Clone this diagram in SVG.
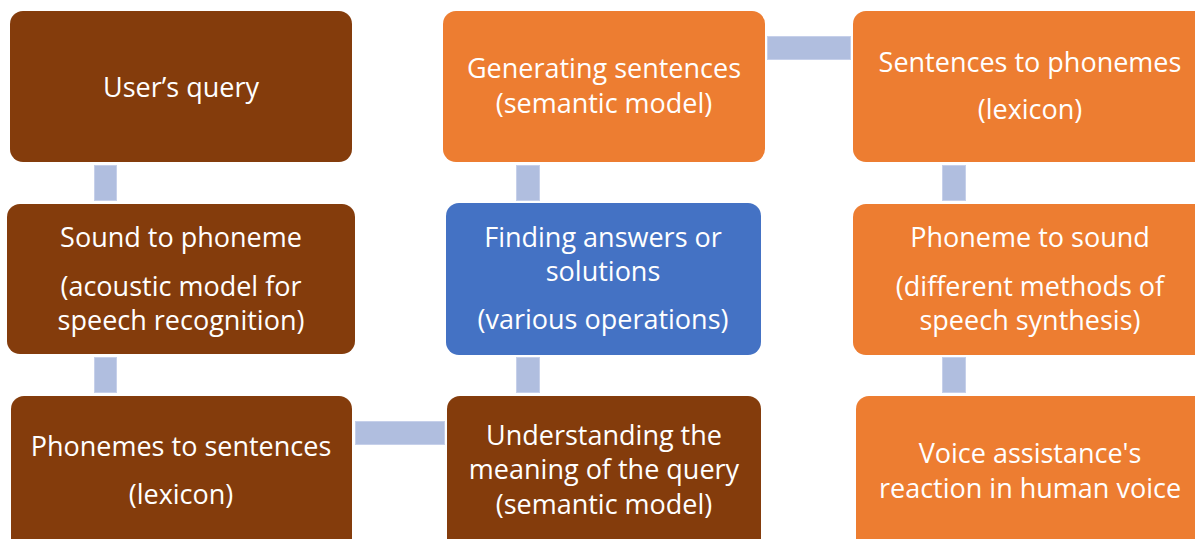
<svg xmlns="http://www.w3.org/2000/svg" width="1195" height="539" viewBox="0 0 1195 539">
<style>
.brown{fill:#843C0C}
.orange{fill:#ED7D31}
.blue{fill:#4472C4}
.conn{fill:#B0BEDF;stroke:#C6D0EA;stroke-width:1}
text{font-family:"Open Sans","Noto Sans",sans-serif;font-size:27px;fill:#FFFFFF;text-anchor:middle}
</style>
<rect width="1195" height="539" fill="#FFFFFF"/>
<g id="connectors">
<rect class="conn" x="94.5" y="165.5" width="22" height="35"/>
<rect class="conn" x="94.5" y="357.5" width="22" height="35"/>
<rect class="conn" x="355.5" y="421.5" width="89" height="23"/>
<rect class="conn" x="516.5" y="357.5" width="23" height="35"/>
<rect class="conn" x="516.5" y="165.5" width="23" height="35"/>
<rect class="conn" x="767.5" y="36.5" width="83" height="23"/>
<rect class="conn" x="942.5" y="165.5" width="23" height="35"/>
<rect class="conn" x="942.5" y="357.5" width="23" height="35"/>
</g>
<g id="n1"><rect class="brown" x="10" y="11" width="342" height="151" rx="13"/>
<text x="181" y="97">User’s query</text></g>
<g id="n2"><rect class="brown" x="7" y="204" width="348" height="150" rx="13"/>
<text x="181" y="247">Sound to phoneme</text>
<text x="181" y="296">(acoustic model for</text>
<text x="181" y="330">speech recognition)</text></g>
<g id="n3"><rect class="brown" x="11" y="396" width="341" height="160" rx="13"/>
<text x="181" y="456">Phonemes to sentences</text>
<text x="181" y="504">(lexicon)</text></g>
<g id="n4"><rect class="brown" x="447" y="396" width="314" height="160" rx="13"/>
<text x="604" y="445">Understanding the</text>
<text x="604" y="479">meaning of the query</text>
<text x="604" y="514">(semantic model)</text></g>
<g id="n5"><rect class="blue" x="446" y="203" width="315" height="152" rx="13"/>
<text x="603" y="247">Finding answers or</text>
<text x="603" y="281">solutions</text>
<text x="603" y="329">(various operations)</text></g>
<g id="n6"><rect class="orange" x="443" y="11" width="322" height="151" rx="13"/>
<text x="604" y="78">Generating sentences</text>
<text x="604" y="113">(semantic model)</text></g>
<g id="n7"><rect class="orange" x="853" y="11" width="360" height="151" rx="13"/>
<text x="1030" y="72">Sentences to phonemes</text>
<text x="1030" y="119">(lexicon)</text></g>
<g id="n8"><rect class="orange" x="853" y="204" width="360" height="151" rx="13"/>
<text x="1030" y="247">Phoneme to sound</text>
<text x="1030" y="296">(different methods of</text>
<text x="1030" y="330">speech synthesis)</text></g>
<g id="n9"><rect class="orange" x="856" y="396" width="360" height="160" rx="13"/>
<text x="1030" y="463">Voice assistance's</text>
<text x="1030" y="498">reaction in human voice</text></g>
</svg>
